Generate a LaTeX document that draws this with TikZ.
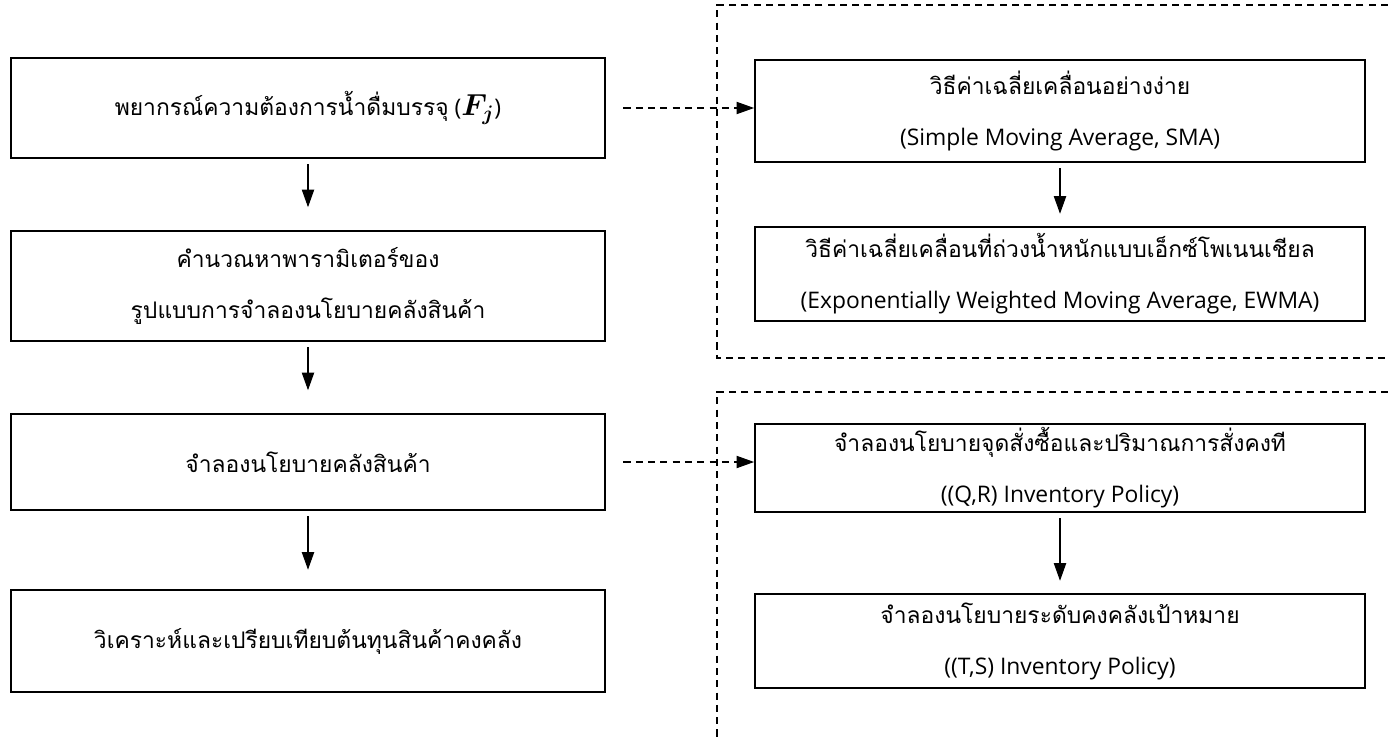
\documentclass[tikz,border=0pt]{standalone}
\usepackage{bm}
\usepackage{fontspec}
\setmainfont{Open Sans}
\newfontfamily\thaifont[Script=Thai]{Loma}
\usetikzlibrary{arrows.meta}

\begin{document}
\begin{tikzpicture}[x=0.02cm, y=-0.02cm, every node/.style={draw, line width=1.1pt, align=center, inner sep=0pt, font=\fontsize{13}{29}\selectfont}, arr/.style={-{Triangle[width=7pt,length=10pt]}, line width=0.6pt}, dashline/.style={dash pattern=on 4pt off 3pt, line width=0.6pt}]
                \useasboundingbox (0,0) rectangle (1388,740);
                % left column
                \node[minimum width=11.88cm, minimum height=2cm] (fc) at (308,108) {{\thaifont พยากรณ์ความต้องการน้ำดื่มบรรจุ} ({\fontsize{18}{29}\selectfont$\bm{F_j}$})};
                \node[minimum width=11.88cm, minimum height=2.2cm] (param) at (308,286) {\thaifont คำนวณหาพารามิเตอร์ของ\\\thaifont รูปแบบการจำลองนโยบายคลังสินค้า};
                \node[minimum width=11.88cm, minimum height=1.92cm] (sim) at (308,462) {\thaifont จำลองนโยบายคลังสินค้า};
                \node[minimum width=11.88cm, minimum height=2.04cm] (cost) at (308,641) {\thaifont วิเคราะห์และเปรียบเทียบต้นทุนสินค้าคงคลัง};
                % right column
                \node[minimum width=12.2cm, minimum height=2.04cm] (sma) at (1060,111) {\thaifont วิธีค่าเฉลี่ยเคลื่อนอย่างง่าย\\(Simple Moving Average, SMA)};
                \node[minimum width=12.2cm, minimum height=1.88cm] (ewma) at (1060,274) {\thaifont วิธีค่าเฉลี่ยเคลื่อนที่ถ่วงน้ำหนักแบบเอ็กซ์โพเนนเชียล\\(Exponentially Weighted Moving Average, EWMA)};
                \node[minimum width=12.2cm, minimum height=1.76cm] (qr) at (1060,468) {\thaifont จำลองนโยบายจุดสั่งซื้อและปริมาณการสั่งคงที\\((Q,R) Inventory Policy)};
                \node[minimum width=12.2cm, minimum height=1.88cm] (ts) at (1060,641) {\thaifont จำลองนโยบายระดับคงคลังเป้าหมาย\\((T,S) Inventory Policy)};
                % dashed frames
                \draw[dashline] (1388,5) -- (717,5) -- (717,358) -- (1388,358);
                \draw[dashline] (1388,392) -- (717,392) -- (717,740);
                \draw[arr, shorten <=3pt, shorten >=13pt] (fc) -- (param);
                \draw[arr, shorten <=3pt, shorten >=13pt] (param) -- (sim);
                \draw[arr, shorten <=3pt, shorten >=11pt] (sim) -- (cost);
                \draw[arr, shorten <=3pt, shorten >=7pt] (sma) -- (ewma);
                \draw[arr, shorten <=3pt, shorten >=7pt] (qr) -- (ts);
                \draw[arr, dashline, shorten <=10pt] (fc.east) -- (fc.east -| sma.west);
                \draw[arr, dashline, shorten <=10pt] (sim.east) -- (sim.east -| qr.west);
                \end{tikzpicture}
\end{document}
